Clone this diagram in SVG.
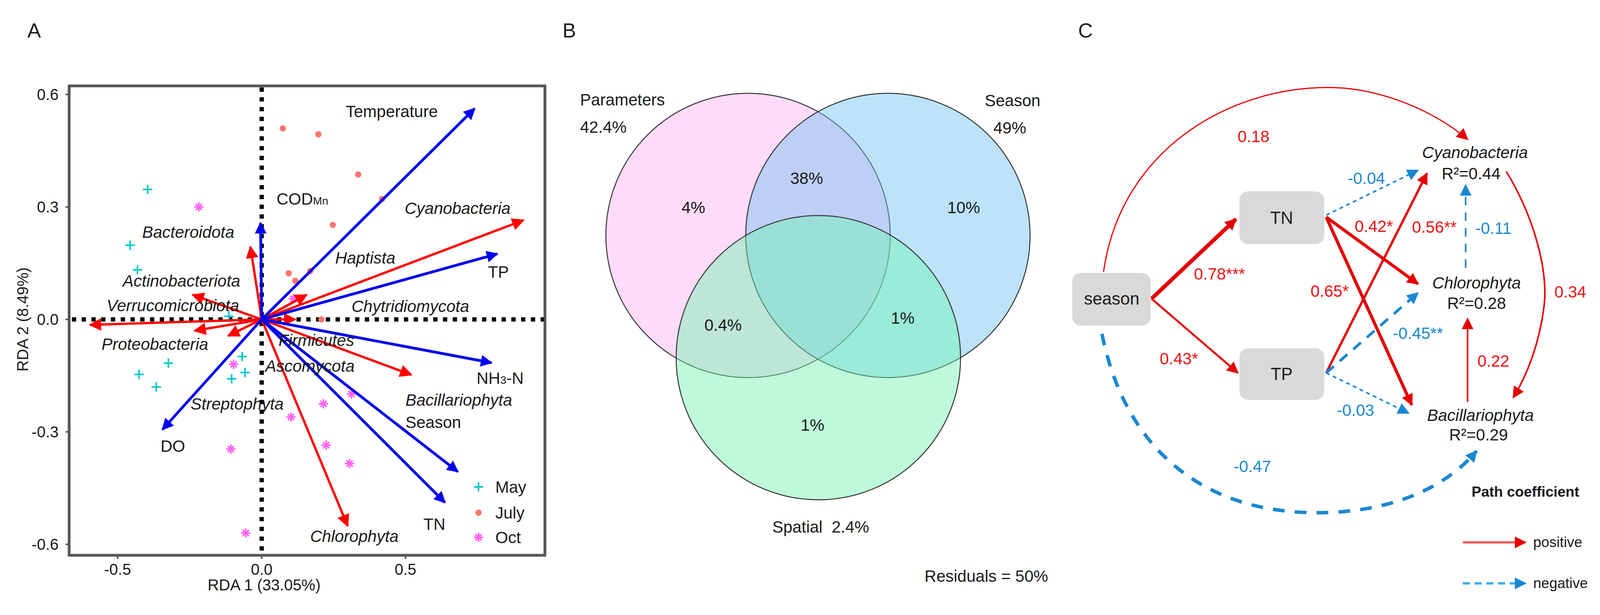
<svg xmlns="http://www.w3.org/2000/svg" width="4226" height="1575" viewBox="0 0 4226 1575">
<style>
text{font-family:"Liberation Sans",Arial,sans-serif;fill:#1a1a1a}
.lbl{font-size:42px}
.it{font-size:42px;font-style:italic}
.pl{font-size:52px}
.tick{font-size:40px}
.rb{stroke:#0000ee;stroke-width:7;fill:none}
.rr{stroke:#ff0000;stroke-width:6;fill:none}
.ax{stroke:#000;stroke-width:11;stroke-dasharray:11 14;fill:none}
.red{fill:#ee1111}
.blu{fill:#1a87d1}
.node{fill:#d9d9d9}
.cr{stroke:#e60000;fill:none}
.cb{stroke:#1a87d1;fill:none}
.leg{font-size:37px}
</style>
<defs>
<marker id="ab" viewBox="0 0 10 10" refX="9" refY="5" markerWidth="38" markerHeight="30" markerUnits="userSpaceOnUse" orient="auto"><path d="M0,0L10,5L0,10z" fill="#0000ee"/></marker>
<marker id="ar" viewBox="0 0 10 10" refX="9" refY="5" markerWidth="38" markerHeight="32" markerUnits="userSpaceOnUse" orient="auto"><path d="M0,0L10,5L0,10z" fill="#ff0000"/></marker>
<marker id="cr" viewBox="0 0 10 10" refX="9" refY="5" markerWidth="34" markerHeight="30" markerUnits="userSpaceOnUse" orient="auto"><path d="M0,0L10,5L0,10z" fill="#e60000"/></marker>
<marker id="cb" viewBox="0 0 10 10" refX="9" refY="5" markerWidth="34" markerHeight="30" markerUnits="userSpaceOnUse" orient="auto"><path d="M0,0L10,5L0,10z" fill="#1a87d1"/></marker>
<symbol id="may" viewBox="-12 -12 24 24" overflow="visible"><path d="M-12,0H12M0,-12V12" stroke="#00c8c8" stroke-width="4"/></symbol>
<symbol id="jul" viewBox="-12 -12 24 24" overflow="visible"><circle r="8" fill="#f8766d"/></symbol>
<symbol id="oct" viewBox="-12 -12 24 24" overflow="visible"><path d="M-12,0H12M0,-12V12M-8,-8L8,8M-8,8L8,-8" stroke="#ff66f0" stroke-width="4"/><circle r="6" fill="#ff66f0"/></symbol>
</defs>

<g id="panelA">
<text x="70" y="96" class="pl">A</text>
<rect x="177" y="220" width="1218" height="1202" fill="none" stroke="#555" stroke-width="7"/>
<path d="M168,242H177M168,530H177M168,818H177M168,1106H177M168,1394H177M301,1422V1431M670,1422V1431M1038,1422V1431" stroke="#555" stroke-width="4"/>
<g class="tick">
<text x="150" y="256" text-anchor="end">0.6</text>
<text x="150" y="544" text-anchor="end">0.3</text>
<text x="150" y="832" text-anchor="end">0.0</text>
<text x="150" y="1120" text-anchor="end">-0.3</text>
<text x="150" y="1408" text-anchor="end">-0.6</text>
<text x="301" y="1472" text-anchor="middle">-0.5</text>
<text x="670" y="1472" text-anchor="middle">0.0</text>
<text x="1038" y="1472" text-anchor="middle">0.5</text>
<text x="676" y="1512" text-anchor="middle">RDA 1 (33.05%)</text>
<text transform="translate(72,818) rotate(-90)" text-anchor="middle">RDA 2 (8.49%)</text>
</g>
<path class="ax" d="M670,224V1420M184,818H1392"/>
<g id="points">
<use href="#may" x="366" y="473" width="24" height="24"/>
<use href="#may" x="321" y="616" width="24" height="24"/>
<use href="#may" x="340" y="679" width="24" height="24"/>
<use href="#may" x="419" y="918" width="24" height="24"/>
<use href="#may" x="344" y="947" width="24" height="24"/>
<use href="#may" x="388" y="979" width="24" height="24"/>
<use href="#may" x="608" y="901" width="24" height="24"/>
<use href="#may" x="615" y="942" width="24" height="24"/>
<use href="#may" x="581" y="958" width="24" height="24"/>
<use href="#may" x="574" y="798" width="24" height="24"/>
<use href="#jul" x="712" y="317" width="24" height="24"/>
<use href="#jul" x="803" y="332" width="24" height="24"/>
<use href="#jul" x="905" y="435" width="24" height="24"/>
<use href="#jul" x="966" y="498" width="24" height="24"/>
<use href="#jul" x="840" y="564" width="24" height="24"/>
<use href="#jul" x="727" y="688" width="24" height="24"/>
<use href="#jul" x="782" y="682" width="24" height="24"/>
<use href="#jul" x="744" y="707" width="24" height="24"/>
<use href="#jul" x="811" y="806" width="24" height="24"/>
<use href="#oct" x="497" y="518" width="24" height="24"/>
<use href="#oct" x="739" y="753" width="24" height="24"/>
<use href="#oct" x="586" y="921" width="24" height="24"/>
<use href="#oct" x="888" y="997" width="24" height="24"/>
<use href="#oct" x="816" y="1022" width="24" height="24"/>
<use href="#oct" x="733" y="1056" width="24" height="24"/>
<use href="#oct" x="579" y="1138" width="24" height="24"/>
<use href="#oct" x="823" y="1128" width="24" height="24"/>
<use href="#oct" x="883" y="1175" width="24" height="24"/>
<use href="#oct" x="617" y="1353" width="24" height="24"/>
</g>
<g id="vectors">
<path class="rr" marker-end="url(#ar)" d="M670,818L1340,564"/>
<path class="rr" marker-end="url(#ar)" d="M670,818L641,632"/>
<path class="rr" marker-end="url(#ar)" d="M670,818L785,755"/>
<path class="rr" marker-end="url(#ar)" d="M670,818L493,755"/>
<path class="rr" marker-end="url(#ar)" d="M670,818L230,832"/>
<path class="rr" marker-end="url(#ar)" d="M670,818L498,847"/>
<path class="rr" marker-end="url(#ar)" d="M670,818L584,860"/>
<path class="rr" marker-end="url(#ar)" d="M670,818L756,818"/>
<path class="rr" marker-end="url(#ar)" d="M670,818L1053,960"/>
<path class="rr" marker-end="url(#ar)" d="M670,818L890,1347" stroke-width="4"/>
<path class="rb" marker-end="url(#ab)" d="M670,818L1215,278"/>
<path class="rb" marker-end="url(#ab)" d="M670,818L667,571"/>
<path class="rb" marker-end="url(#ab)" d="M670,818L1273,650"/>
<path class="rb" marker-end="url(#ab)" d="M670,818L1258,929"/>
<path class="rb" marker-end="url(#ab)" d="M670,818L1172,1208"/>
<path class="rb" marker-end="url(#ab)" d="M670,818L1139,1287"/>
<path class="rb" marker-end="url(#ab)" d="M670,818L416,1100"/>
</g>
<g class="lbl">
<text x="885" y="300">Temperature</text>
<text x="708" y="524">COD<tspan font-size="28">Mn</tspan></text>
<text x="1249" y="711">TP</text>
<text x="1220" y="983">NH<tspan font-size="28">3</tspan>-N</text>
<text x="1038" y="1096">Season</text>
<text x="411" y="1157">DO</text>
<text x="1084" y="1357">TN</text>
</g>
<g class="it">
<text x="1036" y="548">Cyanobacteria</text>
<text x="364" y="609">Bacteroidota</text>
<text x="858" y="675">Haptista</text>
<text x="314" y="734">Actinobacteriota</text>
<text x="273" y="797">Verrucomicrobiota</text>
<text x="900" y="799">Chytridiomycota</text>
<text x="260" y="896">Proteobacteria</text>
<text x="713" y="886">Firmicutes</text>
<text x="679" y="952">Ascomycota</text>
<text x="1038" y="1039">Bacillariophyta</text>
<text x="488" y="1049">Streptophyta</text>
<text x="794" y="1388">Chlorophyta</text>
</g>
<g id="legendA" class="lbl">
<use href="#may" x="1213" y="1235" width="24" height="24"/>
<use href="#jul" x="1213" y="1301" width="24" height="24"/>
<use href="#oct" x="1213" y="1364" width="24" height="24"/>
<text x="1268" y="1262">May</text>
<text x="1268" y="1328">July</text>
<text x="1268" y="1391">Oct</text>
</g>
</g>

<g id="panelB">
<text x="1440" y="96" class="pl">B</text>
<circle id="v-param" cx="1915" cy="603" r="364" fill="#ff99f2" fill-opacity="0.35" stroke="#333" stroke-width="2.5"/>
<circle id="v-season" cx="2273" cy="603" r="364" fill="#6cc0f5" fill-opacity="0.45" stroke="#333" stroke-width="2.5"/>
<circle id="v-spatial" cx="2095" cy="916" r="364" fill="#6ff5ad" fill-opacity="0.45" stroke="#333" stroke-width="2.5"/>
<g class="lbl">
<text x="1485" y="270">Parameters</text>
<text x="1485" y="340">42.4%</text>
<text x="2521" y="272">Season</text>
<text x="2543" y="342">49%</text>
<text x="1775" y="546" text-anchor="middle">4%</text>
<text x="2065" y="471" text-anchor="middle">38%</text>
<text x="2467" y="546" text-anchor="middle">10%</text>
<text x="1851" y="847" text-anchor="middle">0.4%</text>
<text x="2311" y="829" text-anchor="middle">1%</text>
<text x="2080" y="1103" text-anchor="middle">1%</text>
<text x="2101" y="1364" text-anchor="middle" xml:space="preserve">Spatial  2.4%</text>
<text x="2525" y="1490" text-anchor="middle">Residuals = 50%</text>
</g>
</g>

<g id="panelC">
<text x="2760" y="96" class="pl">C</text>
<g id="connectors">
<path class="cr" stroke-width="3" marker-end="url(#cr)" d="M2825,696C2870,380 3150,224 3399,224C3540,224 3680,290 3757,357"/>
<path class="cr" stroke-width="10" marker-end="url(#cr)" d="M2948,765L3164,561"/>
<path class="cr" stroke-width="5" marker-end="url(#cr)" d="M2948,765L3169,955"/>
<path class="cb" stroke-width="9" stroke-dasharray="30 26" marker-end="url(#cb)" d="M2821,855C2880,1150 3080,1313 3371,1313C3560,1313 3700,1250 3780,1155"/>
<path class="cb" stroke-width="4" stroke-dasharray="10 9" marker-end="url(#cb)" d="M3395,551L3630,436"/>
<path class="cr" stroke-width="8" marker-end="url(#cr)" d="M3395,556L3630,727"/>
<path class="cr" stroke-width="8" marker-end="url(#cr)" d="M3395,556L3614,1037"/>
<path class="cr" stroke-width="6" marker-end="url(#cr)" d="M3395,955L3653,444"/>
<path class="cb" stroke-width="7" stroke-dasharray="26 20" marker-end="url(#cb)" d="M3395,955L3630,750"/>
<path class="cb" stroke-width="4" stroke-dasharray="10 9" marker-end="url(#cb)" d="M3395,955L3606,1058"/>
<path class="cb" stroke-width="4" stroke-dasharray="22 18" marker-end="url(#cb)" d="M3752,686V474"/>
<path class="cr" stroke-width="4" marker-end="url(#cr)" d="M3757,1029V816"/>
<path class="cr" stroke-width="4" marker-end="url(#cr)" d="M3856,439C3930,560 3965,700 3952,790C3940,880 3910,960 3874,1018"/>
</g>
<g id="n-season"><rect class="node" x="2745" y="699" width="201" height="135" rx="22"/><text x="2846" y="780" text-anchor="middle" font-size="44">season</text></g>
<g id="n-TN"><rect class="node" x="3173" y="490" width="217" height="135" rx="22"/><text x="3281" y="573" text-anchor="middle" font-size="44">TN</text></g>
<g id="n-TP"><rect class="node" x="3173" y="892" width="217" height="132" rx="22"/><text x="3281" y="973" text-anchor="middle" font-size="44">TP</text></g>
<g id="n-cyano" class="lbl"><text x="3776" y="405" text-anchor="middle" font-style="italic">Cyanobacteria</text><text x="3766" y="459" text-anchor="middle">R²=0.44</text></g>
<g id="n-chloro" class="lbl"><text x="3780" y="739" text-anchor="middle" font-style="italic">Chlorophyta</text><text x="3780" y="791" text-anchor="middle">R²=0.28</text></g>
<g id="n-bacil" class="lbl"><text x="3790" y="1078" text-anchor="middle" font-style="italic">Bacillariophyta</text><text x="3785" y="1128" text-anchor="middle">R²=0.29</text></g>
<g class="lbl" text-anchor="middle">
<text class="red" x="3209" y="364">0.18</text>
<text class="red" x="3122" y="716">0.78***</text>
<text class="red" x="3517" y="594">0.42*</text>
<text class="red" x="3672" y="596">0.56**</text>
<text class="blu" x="3823" y="599">-0.11</text>
<text class="red" x="3404" y="760">0.65*</text>
<text class="red" x="4020" y="762">0.34</text>
<text class="blu" x="3498" y="471">-0.04</text>
<text class="blu" x="3630" y="868">-0.45**</text>
<text class="red" x="3018" y="933">0.43*</text>
<text class="red" x="3823" y="939">0.22</text>
<text class="blu" x="3470" y="1065">-0.03</text>
<text class="blu" x="3206" y="1209">-0.47</text>
</g>
<g id="legendC">
<text x="3905" y="1272" text-anchor="middle" font-size="37" font-weight="bold">Path coefficient</text>
<path stroke="#f06060" stroke-width="6" fill="none" marker-end="url(#cr)" d="M3745,1389H3905"/>
<text x="3925" y="1401" class="leg">positive</text>
<path stroke="#3aaee8" stroke-width="6" stroke-dasharray="18 12" fill="none" marker-end="url(#cb)" d="M3745,1494H3905"/>
<text x="3925" y="1506" class="leg">negative</text>
</g>
</g>
</svg>
